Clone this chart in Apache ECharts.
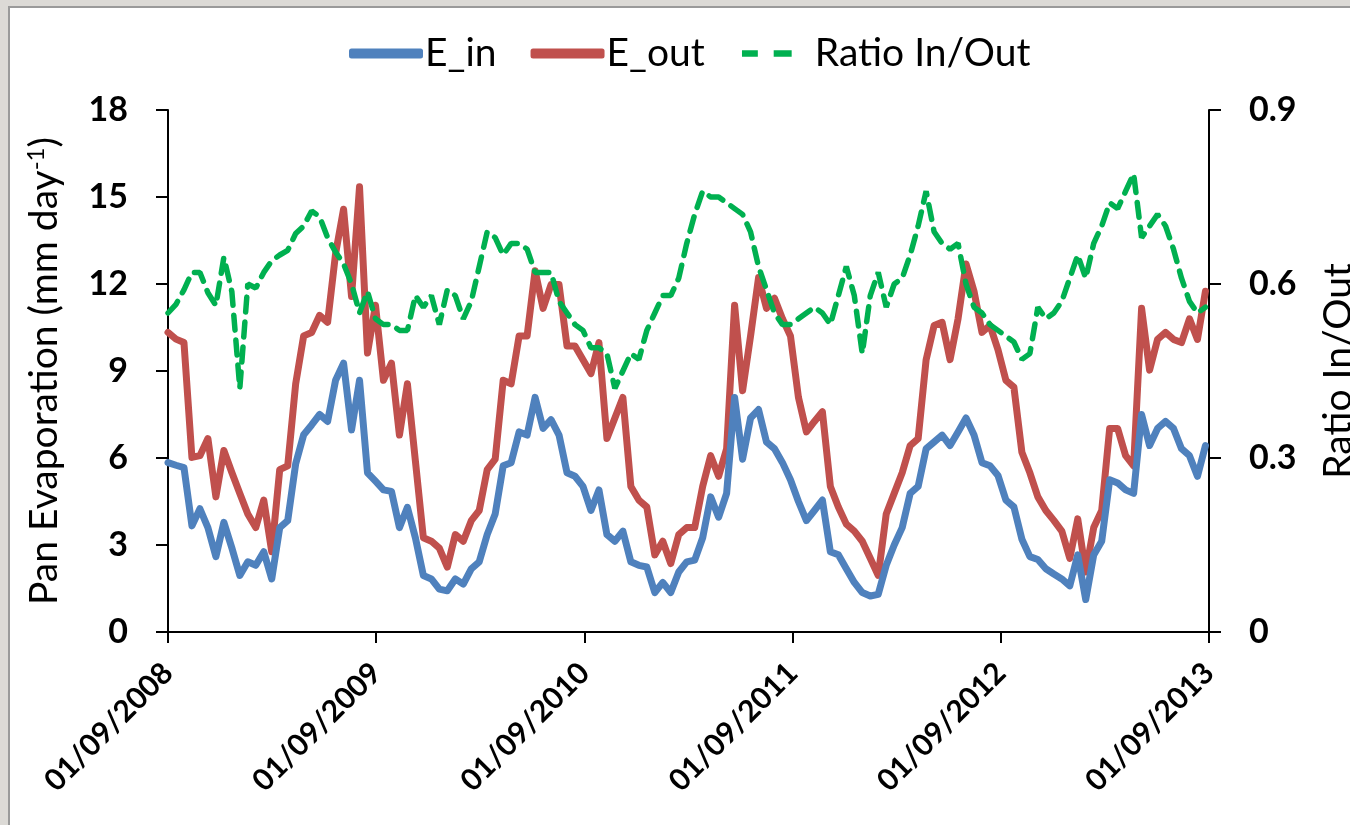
<!DOCTYPE html>
<html>
<head>
<meta charset="utf-8">
<script src="https://cdn.jsdelivr.net/npm/echarts@6/dist/echarts.min.js"></script>
<style>
  html, body { margin: 0; padding: 0; }
  body {
    width: 1350px; height: 825px; overflow: hidden; position: relative;
    background: #dcdad6;
  }
  #panel {
    position: absolute; left: 8px; top: 6px; width: 1360px; height: 840px;
    background: #fff; border: 2px solid #9a9a9a;
  }
  #chart { position: absolute; left: 0; top: 0; width: 1350px; height: 825px; }
</style>
</head>
<body>
<div id="panel"></div>
<div id="chart"></div>
<script>
// fortnightly samples starting 01/09/2008
const startYear = 2008
const stepDays = 14

const eIn = [
  5.84, 5.75, 5.67, 3.66, 4.25, 3.6, 2.6, 3.78, 2.9, 1.95, 2.42, 2.3, 2.77, 1.83, 3.6, 3.84, 5.8, 6.8, 7.14, 7.5, 7.26, 8.68, 9.27, 6.97, 8.68, 5.49, 5.2,
  4.9, 4.85, 3.6, 4.3, 3.25, 1.95, 1.83, 1.48, 1.42, 1.83, 1.65, 2.18, 2.42, 3.36, 4.07, 5.73, 5.84, 6.9, 6.79, 8.09, 7.02, 7.32, 6.79, 5.49, 5.37, 5.02,
  4.19, 4.9, 3.36, 3.13, 3.48, 2.42, 2.3, 2.24, 1.36, 1.71, 1.36, 2.07, 2.42, 2.48, 3.25, 4.66, 3.96, 4.78, 8.09, 5.96, 7.38, 7.67, 6.55, 6.32, 5.84,
  5.25, 4.5, 3.84, 4.19, 4.55, 2.77, 2.66, 2.18, 1.71, 1.36, 1.24, 1.3, 2.3, 3.0, 3.6, 4.78, 5.02, 6.32, 6.55, 6.79, 6.43, 6.9, 7.38, 6.79, 5.84, 5.73,
  5.4, 4.55, 4.31, 3.2, 2.6, 2.5, 2.18, 2.0, 1.83, 1.59, 2.66, 1.12, 2.66, 3.13, 5.25, 5.14, 4.9, 4.78, 7.5, 6.43, 7.02, 7.26, 7.02, 6.32, 6.08, 5.37, 6.43
]
const eOut = [
  10.33, 10.1, 9.98, 6.02, 6.08, 6.67, 4.66, 6.26, 5.5, 4.78, 4.07, 3.6, 4.55, 2.77, 5.6, 5.73, 8.56, 10.21, 10.33, 10.92, 10.68, 13.05, 14.58, 11.57, 15.35, 9.62, 11.27,
  8.68, 9.27, 6.79, 8.56, 5.9, 3.25, 3.13, 2.89, 2.24, 3.36, 3.13, 3.84, 4.19, 5.6, 5.96, 8.68, 8.56, 10.21, 10.21, 12.46, 11.16, 11.98, 11.98, 9.86, 9.86, 9.39,
  8.91, 9.98, 6.67, 7.38, 8.09, 5.02, 4.55, 4.31, 2.66, 3.13, 2.36, 3.36, 3.6, 3.6, 5.02, 6.08, 5.37, 6.32, 11.27, 8.32, 10.21, 12.22, 11.16, 11.51, 10.8,
  10.21, 8.09, 6.9, 7.26, 7.6, 5.02, 4.31, 3.72, 3.48, 3.13, 2.54, 1.95, 4.07, 4.78, 5.49, 6.43, 6.67, 9.39, 10.57, 10.68, 9.39, 10.8, 12.69, 11.75, 10.33, 10.57,
  9.74, 8.68, 8.44, 6.2, 5.49, 4.66, 4.19, 3.85, 3.48, 2.54, 3.9, 2.07, 3.6, 4.19, 7.02, 7.02, 6.08, 5.73, 11.16, 9.03, 10.09, 10.33, 10.09, 9.98, 10.8, 10.09, 11.75
]
const ratio = [
  0.55, 0.565, 0.59, 0.62, 0.62, 0.585, 0.563, 0.646, 0.587, 0.42, 0.6, 0.593, 0.62, 0.64, 0.65, 0.658, 0.687, 0.70, 0.726, 0.716, 0.68, 0.655, 0.635, 0.60, 0.55, 0.587, 0.54,
  0.53, 0.53, 0.52, 0.52, 0.58, 0.56, 0.58, 0.53, 0.59, 0.58, 0.54, 0.57, 0.63, 0.69, 0.68, 0.65, 0.67, 0.67, 0.66, 0.62, 0.62, 0.62, 0.57, 0.55, 0.53, 0.52,
  0.49, 0.49, 0.48, 0.42, 0.45, 0.48, 0.47, 0.52, 0.55, 0.58, 0.58, 0.61, 0.67, 0.72, 0.76, 0.75, 0.75, 0.74, 0.73, 0.72, 0.69, 0.63, 0.59, 0.55, 0.53,
  0.53, 0.54, 0.55, 0.56, 0.55, 0.53, 0.58, 0.63, 0.58, 0.48, 0.58, 0.62, 0.56, 0.60, 0.61, 0.65, 0.70, 0.76, 0.69, 0.67, 0.66, 0.67, 0.60, 0.56, 0.55, 0.53,
  0.52, 0.51, 0.50, 0.47, 0.48, 0.56, 0.54, 0.55, 0.57, 0.61, 0.65, 0.61, 0.67, 0.70, 0.74, 0.73, 0.76, 0.79, 0.68, 0.70, 0.72, 0.70, 0.66, 0.61, 0.57, 0.55, 0.56
]

const pair = arr => arr.map((v, i) => [i * stepDays, v])
const font = 'Lato, "Open Sans", sans-serif'

const chart = echarts.init(document.getElementById('chart'))
chart.setOption({
  animation: false,
  textStyle: { fontFamily: font },
  legend: {
    data: [
      { name: 'E_in', icon: 'roundRect' },
      { name: 'E_out', icon: 'roundRect' },
      { name: 'Ratio In/Out', icon: 'path://M0,0 M3,1.5H18V7.5H3Z M33,1.5H50V7.5H33Z M70,9' }
    ],
    top: 29,
    left: 344,
    itemWidth: 74,
    itemHeight: 10,
    itemGap: 34,
    itemStyle: { borderWidth: 0 },
    textStyle: { fontSize: 39, color: '#000', fontFamily: font, padding: [0, 0, 0, -3] }
  },
  grid: { left: 168, right: 141, top: 110, bottom: 193, outerBoundsMode: 'none' },
  xAxis: {
    type: 'value',
    min: 0,
    max: 1826.25,
    interval: 365.25,
    splitLine: { show: false },
    axisLine: { lineStyle: { color: '#000', width: 2 } },
    axisTick: { inside: false, length: 11, lineStyle: { color: '#000', width: 2 } },
    axisLabel: {
      rotate: 45,
      margin: 36,
      fontSize: 30,
      fontWeight: 'bold',
      color: '#000',
      fontFamily: font,
      formatter: v => '01/09/' + (startYear + Math.round(v / 365.25))
    }
  },
  yAxis: [
    {
      type: 'value',
      min: 0,
      max: 18,
      interval: 3,
      name: 'Pan Evaporation (mm day{sup|-1})',
      nameLocation: 'middle',
      nameGap: 104,
      nameTextStyle: {
        fontSize: 39, color: '#000', fontFamily: font,
        rich: { sup: { fontSize: 24, verticalAlign: 'top', padding: [0, 0, 16, 0], color: '#000', fontFamily: font } }
      },
      splitLine: { show: false },
      axisLine: { show: true, lineStyle: { color: '#000', width: 2 } },
      axisTick: { show: true, length: 12, lineStyle: { color: '#000', width: 2 } },
      axisLabel: { fontSize: 34, fontWeight: 'bold', color: '#000', margin: 40, fontFamily: font }
    },
    {
      type: 'value',
      min: 0,
      max: 0.9,
      interval: 0.3,
      position: 'right',
      name: 'Ratio In/Out',
      nameLocation: 'middle',
      nameGap: 110,
      nameTextStyle: { fontSize: 39, color: '#000', fontFamily: font },
      splitLine: { show: false },
      axisLine: { show: true, lineStyle: { color: '#000', width: 2 } },
      axisTick: { show: true, length: 12, lineStyle: { color: '#000', width: 2 } },
      axisLabel: { fontSize: 34, fontWeight: 'bold', color: '#000', margin: 40, fontFamily: font }
    }
  ],
  series: [
    {
      name: 'E_out',
      type: 'line',
      data: pair(eOut),
      symbol: 'none',
      color: '#C0504D',
      lineStyle: { width: 7, color: '#C0504D', join: 'round', cap: 'round' }
    },
    {
      name: 'E_in',
      type: 'line',
      data: pair(eIn),
      symbol: 'none',
      color: '#4F81BD',
      lineStyle: { width: 7, color: '#4F81BD', join: 'round', cap: 'round' }
    },
    {
      name: 'Ratio In/Out',
      type: 'line',
      yAxisIndex: 1,
      data: pair(ratio),
      symbol: 'none',
      color: '#00B050',
      lineStyle: { width: 5.5, color: '#00B050', type: [15, 10], cap: 'round' }
    }
  ]
})
</script>
</body>
</html>
